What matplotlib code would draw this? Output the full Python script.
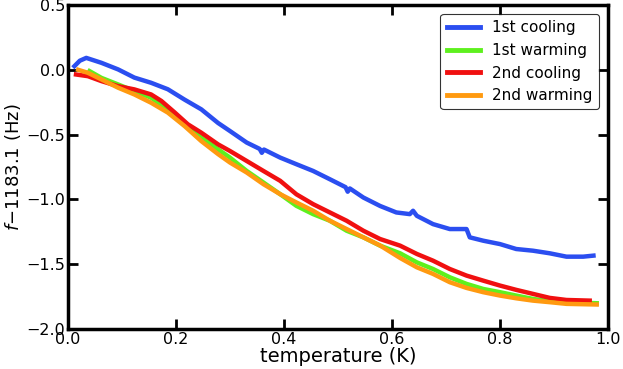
import matplotlib
matplotlib.use("Agg")
import matplotlib.pyplot as plt

# 1st cooling
c1_t = [0.012, 0.022, 0.034, 0.062, 0.093, 0.123, 0.154, 0.185, 0.216, 0.247, 0.278, 0.300, 0.331, 0.355,
        0.359, 0.363, 0.393, 0.423, 0.454, 0.485, 0.514, 0.518, 0.522, 0.547, 0.578, 0.608, 0.633, 0.639,
        0.646, 0.676, 0.707, 0.738, 0.744, 0.769, 0.80, 0.83, 0.861, 0.892, 0.923, 0.954, 0.973]
c1_f = [0.028, 0.07, 0.092, 0.054, 0.003, -0.06, -0.10, -0.15, -0.23, -0.305, -0.41, -0.472, -0.561, -0.61,
        -0.64, -0.615, -0.677, -0.728, -0.78, -0.844, -0.905, -0.94, -0.915, -0.985, -1.05, -1.10, -1.113, -1.087,
        -1.126, -1.19, -1.228, -1.228, -1.292, -1.318, -1.344, -1.382, -1.395, -1.415, -1.441, -1.441, -1.433]

# 1st warming
w1_t = [0.04, 0.062, 0.093, 0.123, 0.154, 0.185, 0.216, 0.247, 0.278, 0.300, 0.331, 0.362, 0.393, 0.423,
        0.454, 0.485, 0.516, 0.547, 0.578, 0.615, 0.646, 0.676, 0.707, 0.738, 0.769, 0.80, 0.83, 0.861,
        0.892, 0.923, 0.979]
w1_f = [-0.01, -0.062, -0.113, -0.164, -0.215, -0.305, -0.42, -0.523, -0.613, -0.677, -0.78, -0.869, -0.959, -1.049,
        -1.113, -1.164, -1.241, -1.292, -1.356, -1.415, -1.485, -1.536, -1.60, -1.651, -1.69, -1.715, -1.741, -1.767,
        -1.785, -1.792, -1.80]

# 2nd cooling
c2_t = [0.015, 0.037, 0.062, 0.093, 0.123, 0.154, 0.173, 0.198, 0.222, 0.247, 0.278, 0.300, 0.331, 0.362,
        0.393, 0.423, 0.454, 0.485, 0.516, 0.547, 0.578, 0.615, 0.646, 0.676, 0.707, 0.738, 0.769, 0.80,
        0.83, 0.861, 0.892, 0.923, 0.966]
c2_f = [-0.036, -0.049, -0.087, -0.126, -0.151, -0.19, -0.24, -0.33, -0.42, -0.485, -0.575, -0.626, -0.703, -0.78,
        -0.856, -0.96, -1.036, -1.10, -1.164, -1.241, -1.305, -1.356, -1.42, -1.472, -1.536, -1.587, -1.626, -1.664,
        -1.697, -1.728, -1.759, -1.775, -1.78]

# 2nd warming
w2_t = [0.019, 0.037, 0.062, 0.093, 0.123, 0.154, 0.185, 0.216, 0.247, 0.278, 0.300, 0.331, 0.362, 0.393,
        0.423, 0.454, 0.485, 0.516, 0.547, 0.578, 0.615, 0.646, 0.676, 0.707, 0.738, 0.769, 0.80, 0.83,
        0.861, 0.892, 0.923, 0.979]
w2_f = [0.0, -0.023, -0.074, -0.138, -0.19, -0.254, -0.33, -0.434, -0.55, -0.65, -0.715, -0.792, -0.882, -0.959,
        -1.023, -1.087, -1.164, -1.228, -1.292, -1.355, -1.451, -1.523, -1.574, -1.638, -1.682, -1.715, -1.741, -1.762,
        -1.78, -1.792, -1.805, -1.81]

series = [("1st cooling", c1_t, c1_f, "#2b4ef0"),
          ("1st warming", w1_t, w1_f, "#5ef01e"),
          ("2nd cooling", c2_t, c2_f, "#f01010"),
          ("2nd warming", w2_t, w2_f, "#ff9a10")]

fig = plt.figure(figsize=(6.23, 3.69), dpi=100)
ax = fig.add_axes([0.109, 0.108, 0.867, 0.8785])
for name, t, f, c in series:
    ax.plot(t, f, color=c, lw=3.2, label=name, solid_joinstyle="round")

ax.set_xlim(0, 1.0)
ax.set_ylim(-2.0, 0.5)
ax.set_xticks([0.0, 0.2, 0.4, 0.6, 0.8, 1.0])
ax.set_yticks([-2.0, -1.5, -1.0, -0.5, 0.0, 0.5])
ax.tick_params(direction="in", length=7, width=2, top=True, right=True, labelsize=11.5, pad=2)
for s in ax.spines.values():
    s.set_linewidth(2.5)
ax.set_xlabel("temperature (K)", fontsize=14, labelpad=0)
ax.set_ylabel(r"$f$$-$1183.1 (Hz)", fontsize=13, labelpad=2)
leg = ax.legend(loc="upper right", fontsize=11, handlelength=2.2, frameon=True, fancybox=True,
                borderaxespad=0.6)
leg.get_frame().set_edgecolor("black")
leg.get_frame().set_linewidth(0.8)
for l in leg.get_lines():
    l.set_linewidth(3.5)
fig.savefig("out.png", dpi=100)
